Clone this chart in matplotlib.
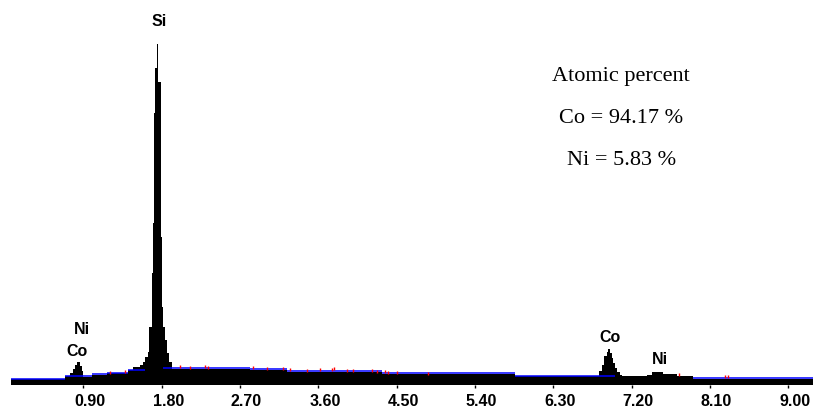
import numpy as np
import matplotlib.pyplot as plt
from matplotlib.transforms import ScaledTranslation

#%% data (energy in keV, counts in arbitrary units)
edges = [0.069, 0.689, 0.747, 0.780, 0.804, 0.830, 0.862, 0.880, 0.896, 1.000,
         1.172, 1.413, 1.471, 1.550, 1.585, 1.614, 1.646, 1.654, 1.685, 1.704,
         1.715, 1.727, 1.750, 1.761, 1.789, 1.800, 1.807, 1.819, 1.838, 1.858,
         1.888, 1.915, 2.815, 3.240, 4.331, 5.859, 6.828, 6.856, 6.882, 6.913,
         6.930, 6.955, 6.970, 6.989, 7.008, 7.028, 7.066, 7.085, 7.372, 7.430,
         7.563, 7.717, 7.908, 9.283]
counts = [6, 9, 12, 16, 20, 23, 19, 14, 8.5,
          10.5, 12, 15, 18, 20, 23, 28, 33, 58, 112,
          162, 272, 317, 341, 303, 148, 112, 78, 58, 45,
          32, 23, 16.5, 15.5, 13.5, 11.5, 9.5, 14, 20, 29,
          33, 36, 32, 27, 22, 17, 13, 10.5, 9, 10,
          13, 11.5, 9.5, 6]

# background fit (blue)
bg_start = [0.069, 0.689, 1.000, 1.172, 1.413, 1.819, 2.815, 3.240, 4.331, 5.859, 7.908]
bg_end   = [0.689, 1.000, 1.172, 1.413, 1.614, 2.815, 3.240, 4.331, 5.859, 7.008, 9.283]
bg_level = [6.5, 9, 11, 12.5, 15, 17, 16, 14, 12, 9.5, 7.5]

# small red marks above background
red_kev = [1.206, 1.379, 2.011, 2.125, 2.298, 2.332, 2.849, 3.010, 3.194, 3.274,
           3.470, 3.619, 3.757, 3.780, 3.929, 3.998, 4.216, 4.274, 4.366, 4.400,
           4.504, 4.860, 7.744, 8.272, 8.307]
red_top = [14, 15.5, 20, 19.5, 20, 19, 19, 18, 18, 17,
           16.5, 17, 17, 18, 16, 16, 16, 15.5, 15, 14.5,
           14, 13.5, 12, 10.5, 10]

ticks = [0.90, 1.80, 2.70, 3.60, 4.50, 5.40, 6.30, 7.20, 8.10, 9.00]

peak_names = ['Si', 'Ni', 'Co', 'Co', 'Ni']
peak_x = [1.770, 0.885, 0.822, 6.951, 7.520]
peak_y = [364, 55.5, 33.5, 47, 26]

summary = ['Atomic percent', 'Co = 94.17 %', 'Ni = 5.83 %']

#%% plot
fig = plt.figure(figsize=(8.13, 4.12), dpi=100)
ax = fig.add_axes([0, 27/412, 1, 385/412])

ax.stairs(counts, edges, fill=True, color='black', baseline=0, lw=0)
ax.hlines(bg_level, bg_start, bg_end, color='#0000ff', lw=1.1, zorder=3)
ax.vlines(red_kev, np.array(red_top) - 3, red_top, color='red', lw=1, zorder=4)

for name, x, y in zip(peak_names, peak_x, peak_y):
    ax.text(x, y, name, ha='center', va='center', fontsize=11.5,
            fontweight='bold', family='Liberation Sans')

for i, line in enumerate(summary):
    fig.text(0.764, 1 - (81 + 42*i)/412, line, ha='center', va='baseline',
             fontsize=16, family='Liberation Serif')

ax.set_xlim(-0.057, 9.283)
ax.set_ylim(0, 385)
ax.set_xticks(ticks)
ax.set_xticklabels([f'{t:.2f}' for t in ticks], fontsize=11.5,
                   fontweight='bold', family='Liberation Sans')
ax.tick_params(axis='x', direction='out', length=2.2, width=1, pad=4.5)
ax.set_yticks([])
for s in ax.spines.values():
    s.set_visible(False)

offset = ScaledTranslation(6.5/100, 0, fig.dpi_scale_trans)
for lab in ax.get_xticklabels():
    lab.set_transform(lab.get_transform() + offset)

fig.savefig('out.png', dpi=100)
